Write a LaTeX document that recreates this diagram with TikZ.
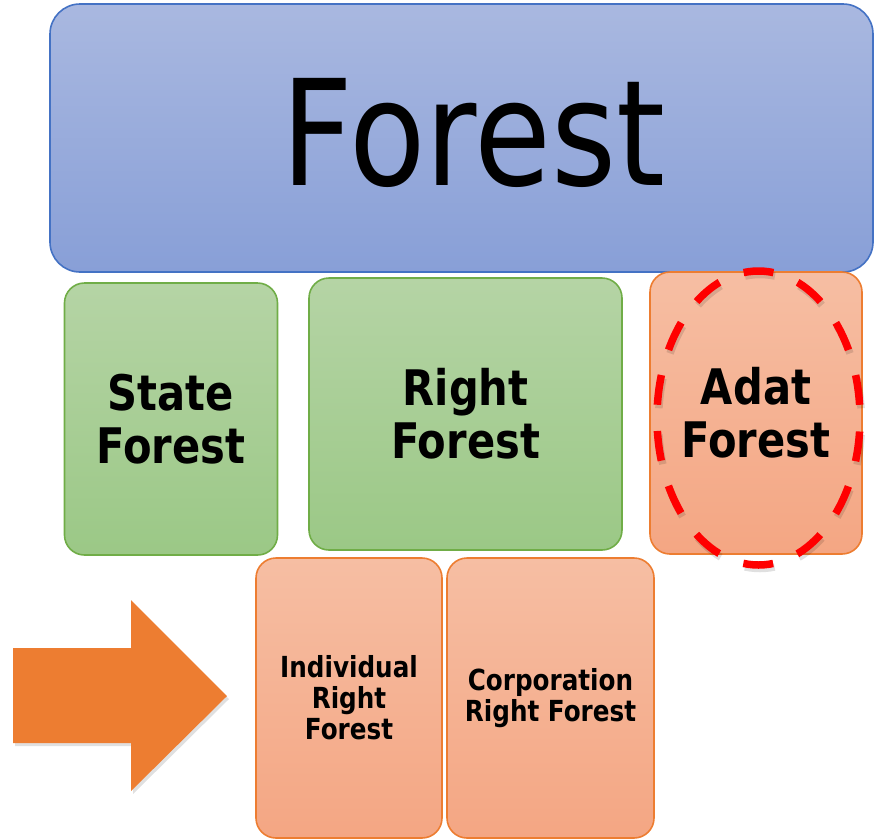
\documentclass[tikz,border=0pt]{standalone}
\usepackage{fontspec}
\newfontfamily\tah[FakeStretch=0.85]{DejaVu Sans}
\usetikzlibrary{shapes.geometric}
\definecolor{blueline}{HTML}{4472C4}
\definecolor{bluetop}{HTML}{A9B8E0}
\definecolor{bluebot}{HTML}{889FD7}
\definecolor{greenline}{HTML}{70AD47}
\definecolor{greentop}{HTML}{B5D4A5}
\definecolor{greenbot}{HTML}{9BC886}
\definecolor{orangeline}{HTML}{ED7D31}
\definecolor{orangetop}{HTML}{F6BEA3}
\definecolor{orangebot}{HTML}{F4A683}
\definecolor{arrowfill}{HTML}{ED7D31}
\definecolor{ringred}{HTML}{FF0000}
\tikzset{
  card/.style={draw, line width=1.6pt, rounded corners=20pt, inner sep=0pt, outer sep=0pt, align=center},
  bluecard/.style={card, draw=blueline, top color=bluetop, bottom color=bluebot, rounded corners=30pt},
  greencard/.style={card, draw=greenline, top color=greentop, bottom color=greenbot},
  orangecard/.style={card, draw=orangeline, top color=orangetop, bottom color=orangebot},
  bigtext/.style={font=\tah\fontsize{147}{160}\selectfont, inner sep=0pt},
  midtext/.style={font=\tah\bfseries\fontsize{49}{53}\selectfont},
  smalltext/.style={font=\tah\bfseries\fontsize{29}{31}\selectfont},
  ring/.style={ellipse, draw=ringred, line width=7.5pt, dash pattern=on 30pt off 26.2pt, dash phase=43pt, inner sep=0pt},
  ringshadow/.style={ellipse, draw=black, opacity=0.12, line width=7.5pt, dash pattern=on 30pt off 26.2pt, dash phase=43pt, inner sep=0pt},
  bigarrow/.style={fill=arrowfill, draw=none},
}
\begin{document}
\begin{tikzpicture}[x=1pt,y=-1pt]
\useasboundingbox (0,0) rectangle (875,839);
% top box
\node[bluecard, minimum width=823pt, minimum height=268pt] (forest) at (461.5,138) {};
\node[bigtext] (forestlabel) at (473.5,133) {Forest};
% second row
\node[greencard, midtext, minimum width=213pt, minimum height=272pt] (state) at (171,419) {State\\Forest};
\node[greencard, midtext, minimum width=313pt, minimum height=272pt] (right) at (465.5,414) {Right\\Forest};
\node[orangecard, midtext, minimum width=212pt, minimum height=282pt] (adat) at (756,413) {Adat\\Forest};
% dashed ring around Adat Forest
\node[ringshadow, minimum width=203pt, minimum height=294pt] (adatshadow) at (760,421.5) {};
\node[ring, minimum width=203pt, minimum height=294pt] (adatring) at (758.5,418) {};
% third row
\node[orangecard, smalltext, minimum width=186pt, minimum height=280pt] (indiv) at (349,698) {Individual\\Right\\Forest};
\node[orangecard, smalltext, minimum width=207pt, minimum height=280pt] (corp) at (550.5,698) {Corporation\\Right Forest};
% big arrow
\fill[black, opacity=0.12] (15,651) -- (133,651) -- (133,603) -- (229,699) -- (133,794) -- (133,746) -- (15,746) -- cycle;
\path[bigarrow] (13,648) -- (131,648) -- (131,600) -- (227,696) -- (131,791) -- (131,743) -- (13,743) -- cycle;
\end{tikzpicture}
\end{document}
